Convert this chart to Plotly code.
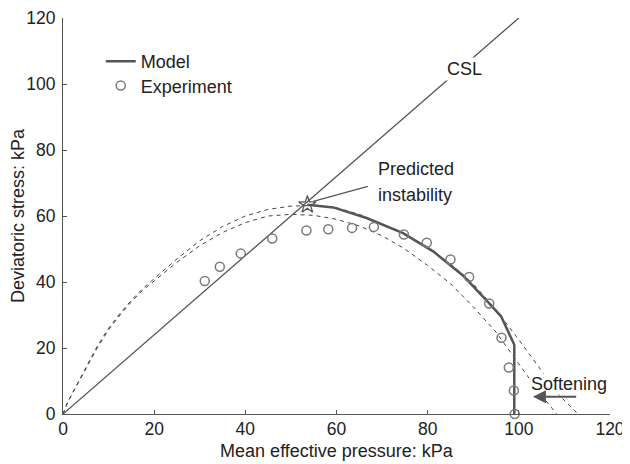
import plotly.graph_objects as go

# ---- data ----
csl_p = [0, 100]
csl_q = [0, 120]

model_p = [53.6, 59.3, 66.6, 74.6, 81.2, 87.8, 93.3, 96.1, 99.0, 99.0]
model_q = [63.4, 62.6, 59.4, 54.8, 49.3, 41.9, 33.8, 29.6, 21.0, 0.0]

exp_p = [31.1, 34.4, 39.0, 45.9, 53.4, 58.2, 63.4, 68.2, 74.8, 79.8, 85.0, 89.1, 93.5, 96.2, 97.8, 98.9, 99.1]
exp_q = [40.3, 44.6, 48.6, 53.2, 55.6, 56.0, 56.4, 56.7, 54.4, 51.9, 46.8, 41.5, 33.5, 23.1, 14.1, 7.1, 0.0]

ys_outer_p = [0, 1, 2.5, 5, 7.5, 10, 12.5, 15, 17.5, 20, 25, 30, 35, 40, 45, 50, 55, 60, 65, 70, 75, 80, 85, 90, 95, 100, 105, 109, 113]
ys_outer_q = [0, 3.5, 7.5, 14, 20.5, 26, 30.5, 34.5, 38, 41, 47, 52.5, 56.8, 60, 62, 63, 63.2, 62.5, 60.5, 57.5, 54.5, 50.5, 45.5, 39.5, 31.5, 22.5, 13, 5.5, 0]

ys_inner_p = [0, 1, 2.5, 5, 7.5, 10, 12.5, 15, 17.5, 20, 25, 30, 35, 40, 45, 50, 55, 60, 65, 70, 75, 80, 85, 90, 95, 100, 104.6, 108.3]
ys_inner_q = [0, 3.5, 7.3, 13.8, 20, 25.5, 30, 34, 37.5, 40.3, 46, 51, 55, 58, 60, 60.5, 60.2, 59, 57, 54, 50, 45, 39.5, 32.5, 24.8, 15.2, 6.3, 0]

instab_p = [53.6]
instab_q = [63.4]

tick_vals = [0, 20, 40, 60, 80, 100, 120]

FONT = "Liberation Sans, Arial, sans-serif"
TXT = "#222222"
AX = "#555555"

fig = go.Figure()

for px_, qy_ in [(ys_outer_p, ys_outer_q), (ys_inner_p, ys_inner_q)]:
    fig.add_trace(go.Scatter(x=px_, y=qy_, mode="lines", showlegend=False,
                             line=dict(color="#444444", width=1, dash="4px,4px"),
                             hoverinfo="skip"))

fig.add_trace(go.Scatter(x=csl_p, y=csl_q, mode="lines", showlegend=False,
                         line=dict(color="#555555", width=1.3)))

fig.add_trace(go.Scatter(x=model_p, y=model_q, mode="lines", name="Model",
                         legend="legend",
                         line=dict(color="#555555", width=2.5)))

fig.add_trace(go.Scatter(x=exp_p, y=exp_q, mode="markers", name="Experiment",
                         legend="legend2",
                         marker=dict(symbol="circle-open", size=9, color="#7a7a7a",
                                     line=dict(width=1.5, color="#7a7a7a")),
                         cliponaxis=False))

fig.add_trace(go.Scatter(x=instab_p, y=instab_q, mode="markers", showlegend=False,
                         marker=dict(symbol="star-open", size=13, color="#555555",
                                     line=dict(width=1.3, color="#555555"))))

annos = [
    dict(x=88.0, y=104.6, text="CSL", showarrow=False, bgcolor="white",
         font=dict(size=18, color=TXT, family=FONT)),
    dict(x=68.6, y=74.3, text="Predicted", showarrow=False, xanchor="left",
         font=dict(size=18, color=TXT, family=FONT)),
    dict(x=68.6, y=66.4, text="instability", showarrow=False, xanchor="left",
         font=dict(size=18, color=TXT, family=FONT)),
    dict(x=54.9, y=64.4, ax=67.2, ay=69.1, axref="x", ayref="y", text="",
         showarrow=True, arrowhead=0, arrowwidth=1.3, arrowcolor="#555555"),
    dict(x=102.4, y=9.2, text="Softening", showarrow=False, xanchor="left",
         bgcolor="white", borderpad=0,
         font=dict(size=18, color=TXT, family=FONT)),
    dict(x=103.1, y=5.2, ax=112.9, ay=5.2, axref="x", ayref="y", text="",
         showarrow=True, arrowhead=2, arrowsize=1.3, arrowwidth=2, arrowcolor="#555555"),
]

leg_common = dict(xanchor="left", yanchor="top", bgcolor="rgba(0,0,0,0)",
                  font=dict(size=18, color=TXT, family=FONT), itemwidth=30)

# the page body adds an 8px offset, so the figure is 8px smaller than the window
fig.update_layout(
    width=622, height=456,
    margin=dict(l=55, r=20, t=10, b=50),
    paper_bgcolor="white", plot_bgcolor="white",
    font=dict(family=FONT, size=18, color=TXT),
    showlegend=True,
    legend=dict(x=0.069, y=0.9366, **leg_common),
    legend2=dict(x=0.069, y=0.8755, **leg_common),
    annotations=annos,
)
fig.update_xaxes(range=[0, 120], tickvals=tick_vals, ticks="inside", ticklen=4,
                 tickcolor=AX, showline=True, linecolor=AX, linewidth=1,
                 showgrid=False, zeroline=False, mirror=False, automargin=False,
                 ticklabelstandoff=-1, ticklabeloverflow="allow",
                 title=dict(text="Mean effective pressure: kPa", standoff=6,
                            font=dict(size=18, color=TXT)),
                 tickfont=dict(size=17.5, color=TXT))
fig.update_yaxes(range=[0, 120], tickvals=tick_vals, ticks="inside", ticklen=4,
                 tickcolor=AX, showline=True, linecolor=AX, linewidth=1,
                 showgrid=False, zeroline=False, mirror=False, automargin=False,
                 ticklabelstandoff=3, ticklabeloverflow="allow",
                 title=dict(text="Deviatoric stress: kPa", standoff=2,
                            font=dict(size=18, color=TXT)),
                 tickfont=dict(size=17.5, color=TXT))

fig.write_html("out.html")
